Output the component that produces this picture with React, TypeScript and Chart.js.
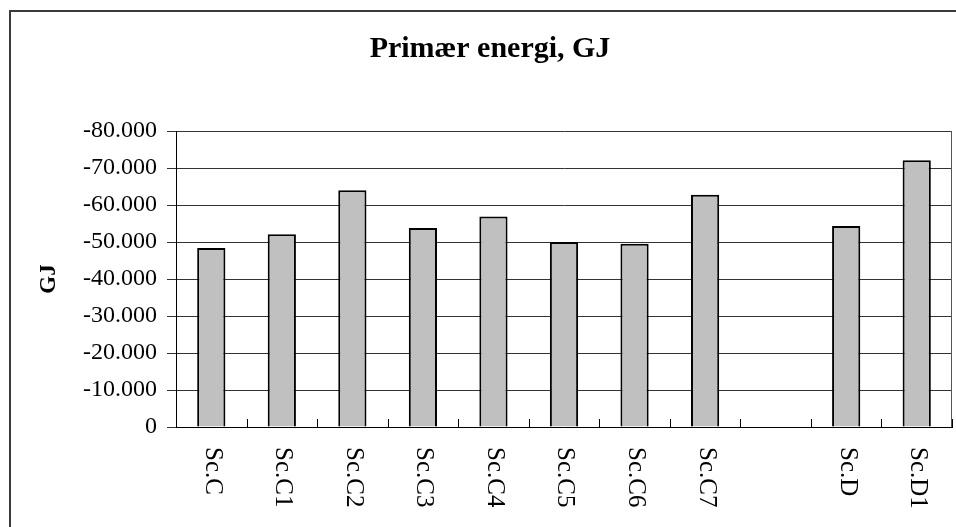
import React, { useEffect, useRef } from "react";
import { Chart, registerables } from "chart.js";

Chart.register(...registerables);

const categories: string[] = ["Sc.C", "Sc.C1", "Sc.C2", "Sc.C3", "Sc.C4", "Sc.C5", "Sc.C6", "Sc.C7", "", "Sc.D", "Sc.D1"];
const values: (number | null)[] = [-48400, -52100, -64000, -53800, -56900, -50000, -49500, -62800, null, -54300, -72100];
const yTicks: number[] = [0, -10000, -20000, -30000, -40000, -50000, -60000, -70000, -80000];

const chartTitle = "Primær energi, GJ";
const yTitle = "GJ";
const FONT = "'Liberation Serif', 'Times New Roman', serif";

function fmt(v: number): string {
  const s = Math.abs(v).toString().replace(/\B(?=(\d{3})+(?!\d))/g, ".");
  return (v < 0 ? "-" : "") + s;
}

const customPlugin = {
  id: "customDecor",
  beforeDraw(chart: any) {
    const { ctx, width, height } = chart;
    ctx.save();
    ctx.fillStyle = "#ffffff";
    ctx.fillRect(0, 0, width, height);
    ctx.strokeStyle = "#3a3a3a";
    ctx.lineWidth = 2;
    ctx.beginPath();
    ctx.moveTo(10, height + 5);
    ctx.lineTo(10, 11);
    ctx.lineTo(width + 5, 11);
    ctx.stroke();
    ctx.restore();
  },
  afterDraw(chart: any) {
    const { ctx, chartArea } = chart;
    const xs = chart.scales.x;
    ctx.save();
    ctx.strokeStyle = "#555555";
    ctx.lineWidth = 1;
    ctx.beginPath();
    ctx.moveTo(chartArea.right - 0.5, chartArea.top);
    ctx.lineTo(chartArea.right - 0.5, chartArea.bottom);
    ctx.stroke();
    ctx.strokeStyle = "#000000";
    for (let i = 1; i <= categories.length; i++) {
      const px = Math.round(xs.getPixelForValue(i - 0.5)) + 0.5;
      ctx.beginPath();
      ctx.moveTo(px, chartArea.bottom);
      ctx.lineTo(px, chartArea.bottom - 8);
      ctx.stroke();
    }
    ctx.fillStyle = "#000000";
    ctx.font = `25px ${FONT}`;
    ctx.textAlign = "left";
    ctx.textBaseline = "middle";
    categories.forEach((label, i) => {
      if (!label) return;
      const px = xs.getPixelForValue(i);
      ctx.save();
      ctx.translate(px + 1, chartArea.bottom + 20);
      ctx.rotate(Math.PI / 2);
      ctx.fillText(label, 0, 0);
      ctx.restore();
    });
    ctx.restore();
  },
};

export default function App() {
  const canvasRef = useRef<HTMLCanvasElement | null>(null);

  useEffect(() => {
    const canvas = canvasRef.current;
    if (!canvas) return;
    Chart.defaults.font.family = FONT;
    Chart.defaults.color = "#000000";
    const chart = new Chart(canvas, {
      type: "bar",
      data: {
        labels: categories,
        datasets: [
          {
            label: "Primær energi",
            data: values,
            backgroundColor: "#c0c0c0",
            borderColor: "#000000",
            borderWidth: 2,
            barPercentage: 0.4,
            categoryPercentage: 1,
          },
        ],
      },
      options: {
        responsive: false,
        animation: false,
        layout: { padding: { left: 28, right: 4, top: 0, bottom: 0 } },
        plugins: {
          legend: { display: false },
          tooltip: { enabled: false },
          title: {
            display: true,
            text: chartTitle,
            color: "#000000",
            font: { family: FONT, size: 30, weight: "bold", lineHeight: 1.2 },
            padding: { top: 31, bottom: 64 },
          },
        },
        scales: {
          x: {
            type: "category",
            grid: { display: false },
            border: { display: true, color: "#000000", width: 1 },
            ticks: { display: false },
            afterFit: (scale: any) => {
              scale.height = 100;
            },
          },
          y: {
            type: "linear",
            reverse: true,
            min: -80000,
            max: 0,
            afterBuildTicks: (scale: any) => {
              scale.ticks = yTicks.map((v) => ({ value: v }));
            },
            grid: { color: "#333333", lineWidth: 1, tickLength: 9, drawTicks: true },
            border: { display: true, color: "#000000", width: 1 },
            ticks: {
              padding: 10,
              color: "#000000",
              font: { family: FONT, size: 24 },
              callback: (v: any) => fmt(Number(v)),
            },
            title: {
              display: true,
              text: yTitle,
              color: "#000000",
              font: { family: FONT, size: 23, weight: "bold", lineHeight: 1.2 },
              padding: { top: 7, bottom: 0 },
            },
            afterFit: (scale: any) => {
              scale.width = 148;
            },
          },
        },
      },
      plugins: [customPlugin],
    });
    return () => chart.destroy();
  }, []);

  return (
    <div style={{ position: "fixed", left: 0, top: 0, width: 956, height: 527, background: "#fff" }}>
      <canvas ref={canvasRef} width={956} height={527} style={{ display: "block", width: 956, height: 527 }} />
    </div>
  );
}
